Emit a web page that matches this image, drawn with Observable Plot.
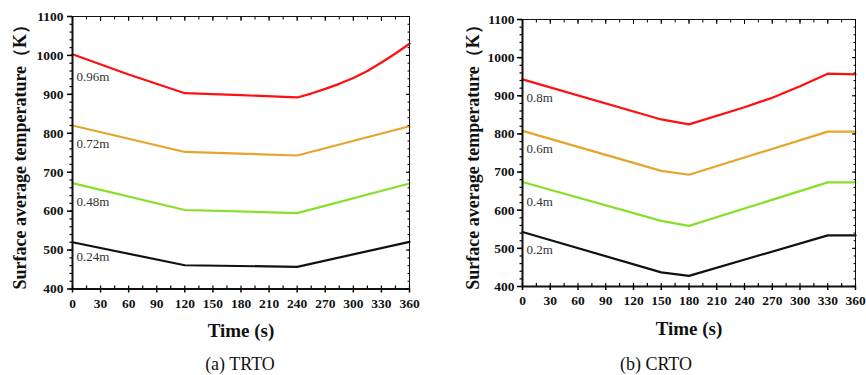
<!DOCTYPE html>
<html>
<head>
<meta charset="utf-8">
<script src="https://cdn.jsdelivr.net/npm/d3@7"></script>
<script src="https://cdn.jsdelivr.net/npm/@observablehq/plot@0.6"></script>
<style>
  html, body { margin: 0; padding: 0; background: #fff; }
  #wrap { position: relative; width: 866px; height: 375px; overflow: hidden; background: #fff; }
  #wrap svg { position: absolute; top: 0; overflow: visible; font-family: "Liberation Serif", serif; }
  #wrap svg text { font-family: "Liberation Serif", serif; }
  .cap { position: absolute; font-family: "Liberation Serif", serif; font-size: 18px; color: #111; transform: translate(-50%, -50%); white-space: nowrap; }
</style>
</head>
<body>
<div id="wrap"></div>
<script>
// ---------- data ----------
const seriesColors = ["#ff1010", "#e6a42a", "#86e02a", "#111111"];

// (a) TRTO
const trtoNames = ["0.96m", "0.72m", "0.48m", "0.24m"];
const trto096T = [0, 60, 120, 180, 240, 255, 270, 285, 300, 315, 330, 345, 360];
const trto096K = [1003, 951, 903, 898, 892, 902, 914, 927, 942, 960, 982, 1005, 1030];
const trto072T = [0, 120, 240, 360];
const trto072K = [820, 752, 743, 818];
const trto048T = [0, 120, 240, 360];
const trto048K = [672, 603, 595, 671];
const trto024T = [0, 120, 240, 360];
const trto024K = [520, 461, 457, 521];
const trtoLabelK = [946, 773, 624, 483];

// (b) CRTO
const crtoNames = ["0.8m", "0.6m", "0.4m", "0.2m"];
const crto08T = [0, 150, 180, 240, 270, 300, 330, 360];
const crto08K = [943, 838, 825, 870, 895, 925, 958, 956];
const crto06T = [0, 150, 180, 330, 360];
const crto06K = [808, 703, 693, 806, 806];
const crto04T = [0, 150, 180, 330, 360];
const crto04K = [674, 572, 559, 673, 673];
const crto02T = [0, 150, 180, 330, 360];
const crto02K = [543, 437, 428, 534, 534];
const crtoLabelK = [894, 761, 623, 496];

const xMajorTicks = d3.range(0, 361, 30);
const xMinorTicks = d3.range(0, 361, 15);
const yMajorTicks = d3.range(400, 1101, 100);
const yMinorTicks = d3.range(400, 1101, 20);

const yTitle = "Surface average temperature（K）";
const xTitle = "Time (s)";

// ---------- drawing ----------
function panel(cfg) {
  const data = cfg.series.flatMap((s, j) => s.t.map((t, i) => ({t, k: s.k[i], name: cfg.names[j]})));
  const labels = cfg.names.map((n, j) => ({t: cfg.series[j].t[0], k: cfg.labelK[j], name: n}));
  const serif = "Liberation Serif";
  const fmt = d => String(d);
  return Plot.plot({
    width: 433,
    height: 345,
    marginLeft: cfg.ml, marginRight: cfg.mr, marginTop: cfg.mt, marginBottom: cfg.mb,
    x: {domain: [0, 360]},
    y: {domain: [400, 1100]},
    color: {domain: cfg.names, range: seriesColors},
    style: {fontFamily: serif, background: "transparent", overflow: "visible"},
    marks: [
      Plot.line(data, {x: "t", y: "k", z: "name", stroke: "name", strokeWidth: 2.2}),
      Plot.text(labels, {x: "t", y: "k", text: "name", textAnchor: "start", dx: 4, fontSize: 13, fill: "#333", fontFamily: serif}),
      Plot.frame({stroke: "#111", strokeWidth: 1}),
      Plot.ruleX([0], {stroke: "#111", strokeWidth: 2}),
      Plot.ruleY([400], {stroke: "#111", strokeWidth: 2}),
      // left ticks (outward)
      Plot.axisY({anchor: "left", ticks: yMajorTicks, tickSize: 5, strokeWidth: 1.5, fill: "none", label: null}),
      Plot.axisY({anchor: "left", ticks: yMinorTicks, tickSize: 2.5, strokeWidth: 1.2, fill: "none", label: null}),
      // right ticks (inward)
      Plot.axisY({anchor: "right", ticks: yMajorTicks, tickSize: -4, strokeWidth: 1, fill: "none", label: null}),
      Plot.axisY({anchor: "right", ticks: yMinorTicks, tickSize: -2.5, strokeWidth: 1, fill: "none", label: null}),
      // bottom ticks
      Plot.axisX({anchor: "bottom", ticks: xMajorTicks, tickSize: 4, strokeWidth: 1.5, fill: "none", label: null}),
      Plot.axisX({anchor: "bottom", ticks: xMinorTicks, tickSize: -3, strokeWidth: 1.2, fill: "none", label: null}),
      // top ticks (inward)
      Plot.axisX({anchor: "top", ticks: xMajorTicks, tickSize: -4, strokeWidth: 1, fill: "none", label: null}),
      Plot.axisX({anchor: "top", ticks: xMinorTicks, tickSize: -2.5, strokeWidth: 1, fill: "none", label: null}),
      // tick labels
      Plot.axisY({anchor: "left", ticks: yMajorTicks, tickFormat: fmt, tickSize: 0, tickPadding: cfg.yPad, label: null, fontSize: 13.5, fontWeight: "bold", fill: "#111", fontFamily: serif}),
      Plot.axisX({anchor: "bottom", ticks: xMajorTicks, tickFormat: fmt, tickSize: 0, tickPadding: 9, label: null, fontSize: 13.5, fontWeight: "bold", fill: "#111", fontFamily: serif}),
      // titles
      Plot.text([yTitle], {frameAnchor: "left", rotate: -90, dx: cfg.yTitleDx, textAnchor: "middle", lineAnchor: "middle", fontSize: 18, fontWeight: "bold", fill: "#111", fontFamily: serif}),
      Plot.text([xTitle], {frameAnchor: "bottom", dy: cfg.xTitleDy, textAnchor: "middle", lineAnchor: "middle", fontSize: 19, fontWeight: "bold", fill: "#111", fontFamily: serif})
    ]
  });
}

const wrap = document.getElementById("wrap");

const svgA = panel({
  names: trtoNames,
  series: [{t: trto096T, k: trto096K}, {t: trto072T, k: trto072K}, {t: trto048T, k: trto048K}, {t: trto024T, k: trto024K}],
  labelK: trtoLabelK,
  ml: 72, mr: 24, mt: 16, mb: 56.5, yPad: 9, yTitleDx: -52, xTitleDy: 42
});
svgA.style.left = "0px";
wrap.appendChild(svgA);

const svgB = panel({
  names: crtoNames,
  series: [{t: crto08T, k: crto08K}, {t: crto06T, k: crto06K}, {t: crto04T, k: crto04K}, {t: crto02T, k: crto02K}],
  labelK: crtoLabelK,
  ml: 89, mr: 11, mt: 19, mb: 59, yPad: 8, yTitleDx: -49, xTitleDy: 42
});
svgB.style.left = "433px";
wrap.appendChild(svgB);

const capA = document.createElement("div");
capA.className = "cap"; capA.textContent = "(a) TRTO";
capA.style.left = "240px"; capA.style.top = "364px";
wrap.appendChild(capA);

const capB = document.createElement("div");
capB.className = "cap"; capB.textContent = "(b) CRTO";
capB.style.left = "656px"; capB.style.top = "364px";
wrap.appendChild(capB);
</script>
</body>
</html>
